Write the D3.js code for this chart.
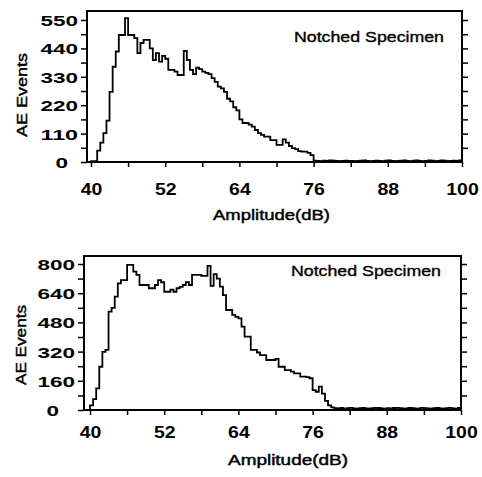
<!DOCTYPE html>
<html><head><meta charset="utf-8">
<script src="https://cdn.jsdelivr.net/npm/d3@7"></script>
<style>
html,body{margin:0;padding:0;background:#fff;}
svg{display:block;}
text{font-family:"Liberation Sans",Arial,Helvetica,sans-serif;fill:#000;}
</style></head><body>
<svg id="c" width="482" height="477"></svg>
<script>
// ---------------- data ----------------
const binStart = 40;        // dB, first histogram bin
const binWidth = 0.5;       // dB per bin
const xEnd = 100;
const xTickValues = [40,46,52,58,64,70,76,82,88,94,100];
const xTickLabels = [40,52,64,76,88,100];
const xLabel = "Amplitude(dB)";
const yLabel = "AE Events";
const panelTitle = "Notched Specimen";

const topYTicks  = [0,55,110,165,220,275,330,385,440,495,550];
const topYLabels = [0,110,220,330,440,550];
const topCounts = [
  3,3,44,75,112,160,272,369,428,492,
  492,557,492,492,480,422,461,473,473,440,
  395,422,389,411,400,357,357,350,337,337,
  430,395,357,340,365,360,350,345,340,325,
  310,292,285,272,245,235,212,200,165,151,
  151,145,137,124,112,105,98,98,85,85,
  66,66,88,75,62,54,50,42,40,40,
  35,27,5,
  4,3,5,4,6,5,4,3,4,5,4,4,3,4,5,6,4,3,4,5,4,3,5,6,
  4,3,4,5,6,4,3,5,6,4,3,4,6,5,3,4,6,5,3,4,5,4,6
];

const bottomYTicks  = [0,80,160,240,320,400,480,560,640,720,800];
const bottomYLabels = [0,160,320,480,640,800];
const bottomCounts = [
  25,60,119,237,319,330,539,560,621,694,
  712,712,795,795,758,740,685,685,685,667,
  667,685,712,700,648,648,660,648,667,675,
  685,700,685,740,740,740,735,735,790,680,
  745,720,676,630,548,548,521,510,502,457,
  402,402,329,329,315,301,301,274,274,274,
  280,237,237,219,219,210,201,201,183,183,
  180,174,109,100,128,90,50,25,14,
  10,9,11,8,10,12,9,8,10,11,9,8,10,12,11,9,8,10,9,11,
  12,10,8,9,11,10,8,9,12,10,9,8,10,11,9,8,10,12,9,8,11
];

// ---------------- layout ----------------
const panels = [
  {counts: topCounts, yTicks: topYTicks, yLabels: topYLabels,
   left: 87, right: 462, top: 11, bottom: 162, x40: 91, yMax: 550, yMaxPx: 20,
   zeroDx: -10, xLabY: 195, xTitle: {cx: 271.5, y: 220, w: 117},
   yTitle: {cx: 27, cy: 95, w: 84}, title: {x: 294, y: 41.5, w: 150}},
  {counts: bottomCounts, yTicks: bottomYTicks, yLabels: bottomYLabels,
   left: 84, right: 461, top: 256, bottom: 410, x40: 90, yMax: 800, yMaxPx: 264,
   zeroDx: -16, xLabY: 438, xTitle: {cx: 288, y: 465, w: 120},
   yTitle: {cx: 26, cy: 345, w: 80}, title: {x: 291, y: 275.5, w: 150}}
];

const svg = d3.select("#c");

panels.forEach(p => {
  const x = d3.scaleLinear().domain([40, 100]).range([p.x40, p.right]);
  const y = d3.scaleLinear().domain([0, p.yMax]).range([p.bottom, p.yMaxPx]);
  const g = svg.append("g");

  // histogram (step line)
  const pts = [[x.invert(p.left), 0]];
  p.counts.forEach((v, i) => pts.push([binStart + i * binWidth, v]));
  pts.push([xEnd, p.counts[p.counts.length - 1]]);
  const line = d3.line().x(d => x(d[0])).y(d => y(d[1])).curve(d3.curveStepAfter);
  g.append("path").attr("d", line(pts))
    .attr("fill", "none").attr("stroke", "#000").attr("stroke-width", 1.8)
    .attr("stroke-linejoin", "miter");

  // left axis
  const ga = g.append("g").attr("transform", `translate(${p.left},0)`)
    .call(d3.axisLeft(y).tickValues(p.yTicks).tickSize(6).tickPadding(3)
      .tickFormat(d => p.yLabels.includes(d) ? d : ""));
  // right axis
  const gr = g.append("g").attr("transform", `translate(${p.right},0)`)
    .call(d3.axisRight(y).tickValues(p.yTicks.filter(d => d > 0)).tickSize(6).tickFormat(""));
  // bottom axis
  const gb = g.append("g").attr("transform", `translate(0,${p.bottom})`)
    .call(d3.axisBottom(x).tickValues(xTickValues).tickSize(5).tickPadding(0)
      .tickFormat(d => xTickLabels.includes(d) ? d : ""));

  [ga, gr, gb].forEach(a => {
    a.select(".domain").remove();
    a.selectAll(".tick line").attr("stroke", "#000").attr("stroke-width", 1.5);
  });

  ga.selectAll(".tick text")
    .style("font-size", "15px").style("font-weight", "bold")
    .attr("dy", "0.36em")
    .each(function(d) {
      const s = String(d);
      const t = d3.select(this).attr("textLength", s.length * 12.5)
        .attr("lengthAdjust", "spacingAndGlyphs");
      if (d === 0) t.attr("dx", p.zeroDx);
    });

  gb.selectAll(".tick text")
    .style("font-size", "16px").style("font-weight", "bold")
    .attr("y", p.xLabY - p.bottom).attr("dy", 0)
    .each(function(d) {
      const s = String(d);
      if (s.length) d3.select(this).attr("textLength", s.length * 10.8)
        .attr("lengthAdjust", "spacingAndGlyphs");
    });

  // frame
  g.append("rect").attr("x", p.left).attr("y", p.top)
    .attr("width", p.right - p.left).attr("height", p.bottom - p.top)
    .attr("fill", "none").attr("stroke", "#000").attr("stroke-width", 2);

  // titles
  g.append("text").attr("x", p.xTitle.cx).attr("y", p.xTitle.y)
    .attr("text-anchor", "middle").style("font-size", "15px")
    .attr("stroke", "#000").attr("stroke-width", 0.45)
    .attr("textLength", p.xTitle.w).attr("lengthAdjust", "spacingAndGlyphs")
    .text(xLabel);

  g.append("text")
    .attr("transform", `translate(${p.yTitle.cx},${p.yTitle.cy}) rotate(-90)`)
    .attr("text-anchor", "middle").style("font-size", "15px")
    .attr("stroke", "#000").attr("stroke-width", 0.45)
    .attr("textLength", p.yTitle.w).attr("lengthAdjust", "spacingAndGlyphs")
    .text(yLabel);

  g.append("text").attr("x", p.title.x).attr("y", p.title.y)
    .style("font-size", "15px")
    .attr("stroke", "#000").attr("stroke-width", 0.35)
    .attr("textLength", p.title.w).attr("lengthAdjust", "spacingAndGlyphs")
    .text(panelTitle);
});
</script>
</body></html>
